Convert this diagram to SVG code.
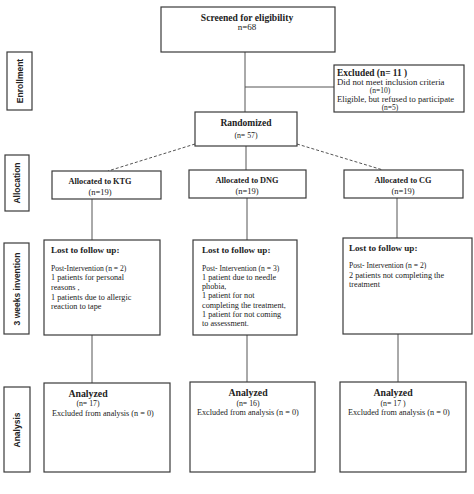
<svg xmlns="http://www.w3.org/2000/svg" width="474" height="494" viewBox="0 0 474 494">
<style>
.box{fill:#fff;stroke:#3a3a3a;stroke-width:1.2}
.ln{stroke:#555;stroke-width:1;fill:none}
.dash{stroke:#555;stroke-width:1;fill:none;stroke-dasharray:3,2}
.t{font-family:"Liberation Serif",serif;fill:#222}
.b{font-weight:bold}
.s{font-family:"Liberation Sans",Arial,sans-serif;font-weight:bold;font-size:8.5px;fill:#222}
</style>
<rect width="474" height="494" fill="#fff"/>
<g id="connectors">
<line class="ln" x1="245" y1="52" x2="245" y2="112"/>
<line class="ln" x1="245" y1="87" x2="334" y2="87"/>
<line class="dash" x1="195" y1="144" x2="108" y2="171"/>
<line class="dash" x1="297" y1="144" x2="383" y2="170"/>
<line class="ln" x1="246" y1="146" x2="246" y2="170"/>
<line class="ln" x1="92" y1="199" x2="92" y2="240"/>
<line class="ln" x1="247" y1="198" x2="247" y2="240"/>
<line class="ln" x1="397" y1="198" x2="397" y2="238"/>
<line class="ln" x1="92" y1="335" x2="92" y2="383"/>
<line class="ln" x1="247" y1="335" x2="247" y2="382"/>
<line class="ln" x1="398" y1="334" x2="398" y2="382"/>
</g>
<g id="label-enrollment">
<rect class="box" x="7" y="52" width="25" height="58"/>
<text class="s" transform="translate(23,81) rotate(-90)" text-anchor="middle">Enrollment</text>
</g>
<g id="label-allocation">
<rect class="box" x="5" y="155" width="24" height="56"/>
<text class="s" transform="translate(20,183) rotate(-90)" text-anchor="middle">Allocation</text>
</g>
<g id="label-weeks">
<rect class="box" x="4" y="243" width="25" height="91"/>
<text class="s" transform="translate(20,289) rotate(-90)" text-anchor="middle">3  weeks invention</text>
</g>
<g id="label-analysis">
<rect class="box" x="4" y="387" width="26" height="85"/>
<text class="s" transform="translate(20,430) rotate(-90)" text-anchor="middle">Analysis</text>
</g>
<g id="screened">
<rect class="box" x="161" y="7" width="174" height="45"/>
<text class="t b" x="247" y="21" font-size="9.6" text-anchor="middle">Screened for eligibility</text>
<text class="t" x="247" y="30" font-size="9" text-anchor="middle">n=68</text>
</g>
<g id="excluded">
<rect class="box" x="334" y="65" width="130" height="47"/>
<text class="t b" x="337" y="76" font-size="9.4">Excluded (n= 11 )</text>
<text class="t" x="337" y="85" font-size="8.8">Did not meet inclusion criteria</text>
<text class="t" x="380" y="93" font-size="7.5" text-anchor="middle">(n=10)</text>
<text class="t" x="337" y="102" font-size="8.6">Eligible, but refused to participate</text>
<text class="t" x="390" y="110" font-size="7.5" text-anchor="middle">(n=5)</text>
</g>
<g id="randomized">
<rect class="box" x="195" y="112" width="102" height="34"/>
<text class="t b" x="246" y="126" font-size="9.5" text-anchor="middle">Randomized</text>
<text class="t" x="246" y="138" font-size="7.8" text-anchor="middle">(n= 57)</text>
</g>
<g id="alloc-ktg">
<rect class="box" x="52" y="171" width="109" height="28"/>
<text class="t b" x="100" y="184" font-size="8.3" text-anchor="middle">Allocated to KTG</text>
<text class="t" x="100" y="195" font-size="8.5" text-anchor="middle">(n=19)</text>
</g>
<g id="alloc-dng">
<rect class="box" x="189" y="170" width="117" height="28"/>
<text class="t b" x="247" y="183" font-size="8.3" text-anchor="middle">Allocated to  DNG</text>
<text class="t" x="247" y="194" font-size="8.5" text-anchor="middle">(n=19)</text>
</g>
<g id="alloc-cg">
<rect class="box" x="344" y="170" width="119" height="28"/>
<text class="t b" x="403" y="183" font-size="8.3" text-anchor="middle">Allocated to CG</text>
<text class="t" x="403" y="194" font-size="8.5" text-anchor="middle">(n=19)</text>
</g>
<g id="lost-ktg">
<rect class="box" x="44" y="240" width="116" height="95"/>
<text class="t b" x="51" y="253" font-size="9.1">Lost to follow up:</text>
<text class="t" x="51" y="271" font-size="7.6">Post-Intervention (n = 2)</text>
<text class="t" x="51" y="280" font-size="8.2">1 patients for personal</text>
<text class="t" x="51" y="290" font-size="8.2">reasons ,</text>
<text class="t" x="51" y="300" font-size="8.2">1 patients due to allergic</text>
<text class="t" x="51" y="309" font-size="8.2">reaction to tape</text>
</g>
<g id="lost-dng">
<rect class="box" x="193" y="240" width="104" height="95"/>
<text class="t b" x="202" y="253" font-size="9.1">Lost to follow up:</text>
<text class="t" x="202" y="271" font-size="7.6">Post- Intervention (n = 3)</text>
<text class="t" x="202" y="280" font-size="8.2">1 patient due to needle</text>
<text class="t" x="202" y="289" font-size="8.2">phobia,</text>
<text class="t" x="202" y="298" font-size="8.2">1 patient for not</text>
<text class="t" x="202" y="308" font-size="8.2">completing the treatment,</text>
<text class="t" x="202" y="317" font-size="8.2">1 patient for not coming</text>
<text class="t" x="202" y="326" font-size="8.2">to assessment.</text>
</g>
<g id="lost-cg">
<rect class="box" x="343" y="238" width="129" height="96"/>
<text class="t b" x="349" y="251" font-size="9.1">Lost to follow up:</text>
<text class="t" x="349" y="268" font-size="7.6">Post- Intervention (n = 2)</text>
<text class="t" x="349" y="278" font-size="8.2">2 patients not completing the</text>
<text class="t" x="349" y="287" font-size="8.2">treatment</text>
</g>
<g id="analyzed-ktg">
<rect class="box" x="44" y="383" width="126" height="89"/>
<text class="t b" x="88" y="397" font-size="9.8" text-anchor="middle">Analyzed</text>
<text class="t" x="88" y="406" font-size="7.8" text-anchor="middle">(n=  17)</text>
<text class="t" x="52" y="416" font-size="8.2">Excluded from analysis (n = 0)</text>
</g>
<g id="analyzed-dng">
<rect class="box" x="190" y="382" width="125" height="90"/>
<text class="t b" x="248" y="396" font-size="9.8" text-anchor="middle">Analyzed</text>
<text class="t" x="248" y="406" font-size="7.8" text-anchor="middle">(n= 16)</text>
<text class="t" x="197" y="415" font-size="8.2">Excluded from analysis (n = 0)</text>
</g>
<g id="analyzed-cg">
<rect class="box" x="340" y="382" width="126" height="90"/>
<text class="t b" x="393" y="396" font-size="9.8" text-anchor="middle">Analyzed</text>
<text class="t" x="393" y="406" font-size="7.8" text-anchor="middle">(n= 17 )</text>
<text class="t" x="348" y="415" font-size="8.2">Excluded from analysis (n = 0)</text>
</g>
</svg>
